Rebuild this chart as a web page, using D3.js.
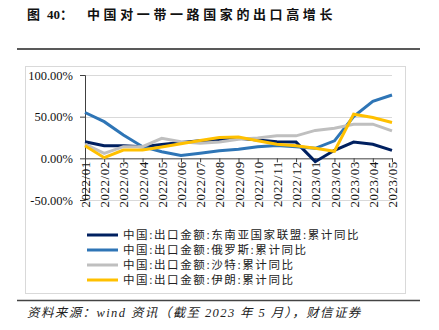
<!DOCTYPE html>
<html>
<head>
<meta charset="utf-8">
<script src="https://cdn.jsdelivr.net/npm/d3@7"></script>
<style>
  body { margin: 0; background: #fff; }
  svg { display: block; }
</style>
</head>
<body>
<div id="viz"></div>
<script>
const width = 439;
const height = 330;

// data (cumulative YoY, %)
const months = ['2022/01', '2022/02', '2022/03', '2022/04', '2022/05', '2022/06', '2022/07', '2022/08', '2022/09',
  '2022/10', '2022/11', '2022/12', '2023/01', '2023/02', '2023/03', '2023/04', '2023/05'];
const asean = [20, 15, 15, 14, 16.5, 19, 21, 22, 24, 22, 20, 19.5, -4, 9.7, 19.5, 16.8, 9.5];
const russia = [55, 44, 28, 14, 8, 3.5, 6, 9, 11, 14, 15.5, 14, 12, 21, 50, 68.5, 76];
const saudi = [17, 6, 14, 14, 24, 20, 18, 19.5, 22.8, 24.5, 27, 27, 33.5, 36, 41, 41, 33];
const iran = [15, 0.8, 10, 10, 13.5, 17.5, 21.5, 25, 25.5, 21, 17, 15, 12, 8.5, 53, 49, 43];
const yTicks = [100, 50, 0, -50];

const seriesNames = ['中国:出口金额:东南亚国家联盟:累计同比', '中国:出口金额:俄罗斯:累计同比',
  '中国:出口金额:沙特:累计同比', '中国:出口金额:伊朗:累计同比'];
const seriesColors = ['#002060', '#2E75B6', '#BFBFBF', '#FFC000'];
const series = [asean, russia, saudi, iran];

const serif = '"Liberation Serif", "Noto Sans CJK SC", serif';
const cjk = '"Liberation Serif", "Noto Sans CJK SC", sans-serif';

const svg = d3.select('#viz')
  .append('svg')
    .attr('width', width)
    .attr('height', height)
    .attr('viewBox', [0, 0, width, height]);

// title
const title = svg.append('text')
  .attr('y', 19)
  .attr('font-family', cjk)
  .attr('font-size', 13)
  .attr('font-weight', 'bold')
  .attr('fill', '#111');
title.append('tspan').attr('x', 27).text('图');
title.append('tspan').attr('x', 47).text('40：');
title.append('tspan').attr('x', 87).attr('letter-spacing', 3.6).text('中国对一带一路国家的出口高增长');

// rules above and below the chart
svg.append('line')
  .attr('x1', 17).attr('x2', 420).attr('y1', 49).attr('y2', 49)
  .attr('stroke', '#222').attr('stroke-width', 1.5);
svg.append('line')
  .attr('x1', 17).attr('x2', 420).attr('y1', 300.5).attr('y2', 300.5)
  .attr('stroke', '#444').attr('stroke-width', 1.5);

// chart frame
svg.append('rect')
  .attr('x', 25.5).attr('y', 66.5)
  .attr('width', 380).attr('height', 227)
  .attr('fill', 'none')
  .attr('stroke', '#d9d9d9');

const x = d3.scalePoint()
  .domain(months)
  .range([85, 392]);

const y = d3.scaleLinear()
  .domain([-50, 100])
  .range([200, 75]);

// gridlines
svg.append('g')
  .selectAll('line')
  .data(yTicks.filter(d => d !== 0))
  .join('line')
    .attr('x1', 85).attr('x2', 392)
    .attr('y1', d => Math.round(y(d)) + 0.5)
    .attr('y2', d => Math.round(y(d)) + 0.5)
    .attr('stroke', '#d9d9d9');

// y axis
const yAxis = svg.append('g')
  .attr('transform', 'translate(85, 0)')
  .call(d3.axisLeft(y).tickValues(yTicks).tickSize(5).tickPadding(7)
    .tickFormat(d => d.toFixed(2) + '%'));
yAxis.select('.domain').attr('stroke', '#404040');
yAxis.selectAll('.tick line').attr('stroke', '#404040');
yAxis.selectAll('text')
  .attr('font-family', serif)
  .attr('font-size', 12.5)
  .attr('fill', '#111');

// x axis at 0
const xAxis = svg.append('g')
  .attr('transform', `translate(0, ${y(0)})`)
  .call(d3.axisBottom(x).tickSize(4).tickSizeOuter(0));
xAxis.select('.domain').attr('stroke', '#404040');
xAxis.selectAll('.tick line').attr('stroke', '#404040');
xAxis.selectAll('text')
  .attr('font-family', serif)
  .attr('font-size', 13)
  .attr('letter-spacing', 0.5)
  .attr('fill', '#111')
  .attr('text-anchor', 'end')
  .attr('transform', 'rotate(-90)')
  .attr('x', -3)
  .attr('y', 0)
  .attr('dy', '0.35em');

// lines
const line = d3.line()
  .x((d, i) => x(months[i]))
  .y(d => y(d));

svg.append('g')
  .selectAll('path')
  .data(series)
  .join('path')
    .attr('d', d => line(d))
    .attr('fill', 'none')
    .attr('stroke', (d, i) => seriesColors[i])
    .attr('stroke-width', 3)
    .attr('stroke-linejoin', 'miter');

// legend
const legend = svg.append('g')
  .selectAll('g')
  .data(seriesNames)
  .join('g')
    .attr('transform', (d, i) => `translate(87, ${235 + i * 15})`);

legend.append('line')
  .attr('x1', 0).attr('x2', 31)
  .attr('stroke', (d, i) => seriesColors[i])
  .attr('stroke-width', 3);

legend.append('text')
  .attr('x', 36)
  .attr('dy', '0.38em')
  .attr('font-family', cjk)
  .attr('font-size', 11.5)
  .attr('letter-spacing', 1.6)
  .attr('fill', '#222')
  .text(d => d);

// source
svg.append('text')
  .attr('x', 27)
  .attr('y', 317)
  .attr('font-family', cjk)
  .attr('font-size', 12.5)
  .attr('font-style', 'italic')
  .attr('letter-spacing', 1.4)
  .attr('fill', '#222')
  .text('资料来源：wind 资讯（截至 2023 年 5 月），财信证券');
</script>
</body>
</html>
